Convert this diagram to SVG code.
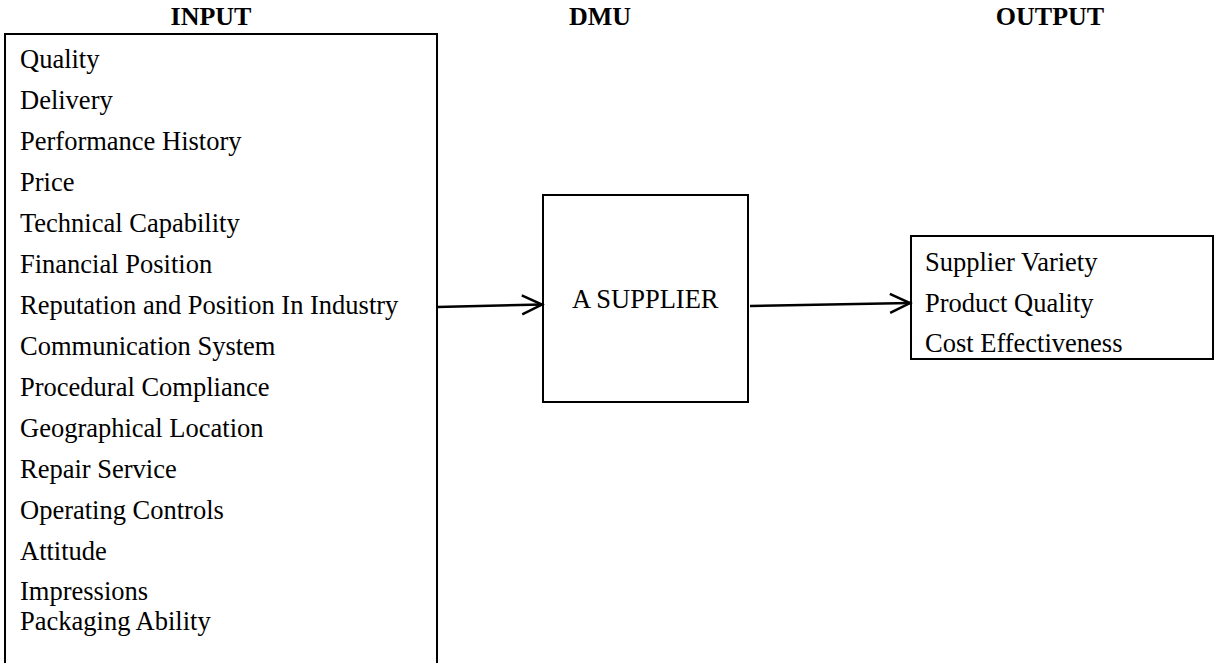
<svg xmlns="http://www.w3.org/2000/svg" width="1216" height="663" viewBox="0 0 1216 663">
  <style>
    .box { fill: none; stroke: #000; stroke-width: 2; }
    .hdr { font-family: "Liberation Serif", "Times New Roman", serif; font-weight: bold; font-size: 26px; fill: #000; text-anchor: middle; }
    .lbl { font-family: "Liberation Serif", "Times New Roman", serif; font-size: 26.5px; fill: #000; }
    .conn { fill: none; stroke: #000; stroke-width: 2.5; }
  </style>
  <defs>
    <marker id="openArrow" markerUnits="userSpaceOnUse" markerWidth="30" markerHeight="30" viewBox="-25 -15 30 30" refX="0" refY="0" orient="auto">
      <path d="M-20,-9.5 L0,0 L-20,9.5" fill="none" stroke="#000" stroke-width="2.5" stroke-linejoin="miter"/>
    </marker>
  </defs>
  <rect width="1216" height="663" fill="#fff"/>

  <!-- column headers -->
  <g id="headers">
    <text class="hdr" x="211" y="25">INPUT</text>
    <text class="hdr" x="600" y="25">DMU</text>
    <text class="hdr" x="1050" y="25">OUTPUT</text>
  </g>

  <!-- input criteria list (box runs off the bottom edge) -->
  <g id="input">
    <path class="box" d="M5,700 V34 H437 V700"/>
    <text class="lbl" x="20" y="68">Quality</text>
    <text class="lbl" x="20" y="109">Delivery</text>
    <text class="lbl" x="20" y="150">Performance History</text>
    <text class="lbl" x="20" y="191">Price</text>
    <text class="lbl" x="20" y="232">Technical Capability</text>
    <text class="lbl" x="20" y="273">Financial Position</text>
    <text class="lbl" x="20" y="314">Reputation and Position In Industry</text>
    <text class="lbl" x="20" y="355">Communication System</text>
    <text class="lbl" x="20" y="396">Procedural Compliance</text>
    <text class="lbl" x="20" y="437">Geographical Location</text>
    <text class="lbl" x="20" y="478">Repair Service</text>
    <text class="lbl" x="20" y="519">Operating Controls</text>
    <text class="lbl" x="20" y="560">Attitude</text>
    <text class="lbl" x="20" y="600">Impressions</text>
    <text class="lbl" x="20" y="630">Packaging Ability</text>
  </g>

  <!-- decision making unit -->
  <g id="dmu">
    <rect class="box" x="543" y="195" width="205" height="207"/>
    <text class="lbl" x="572" y="308">A SUPPLIER</text>
  </g>

  <!-- output measures -->
  <g id="output">
    <rect class="box" x="911" y="236" width="302" height="123"/>
    <text class="lbl" x="925" y="271">Supplier Variety</text>
    <text class="lbl" x="925" y="312">Product Quality</text>
    <text class="lbl" x="925" y="352">Cost Effectiveness</text>
  </g>

  <!-- connectors -->
  <g id="connectors">
    <line class="conn" x1="437" y1="307" x2="542" y2="304.5" marker-end="url(#openArrow)"/>
    <line class="conn" x1="750" y1="306" x2="910" y2="303" marker-end="url(#openArrow)"/>
  </g>
</svg>
